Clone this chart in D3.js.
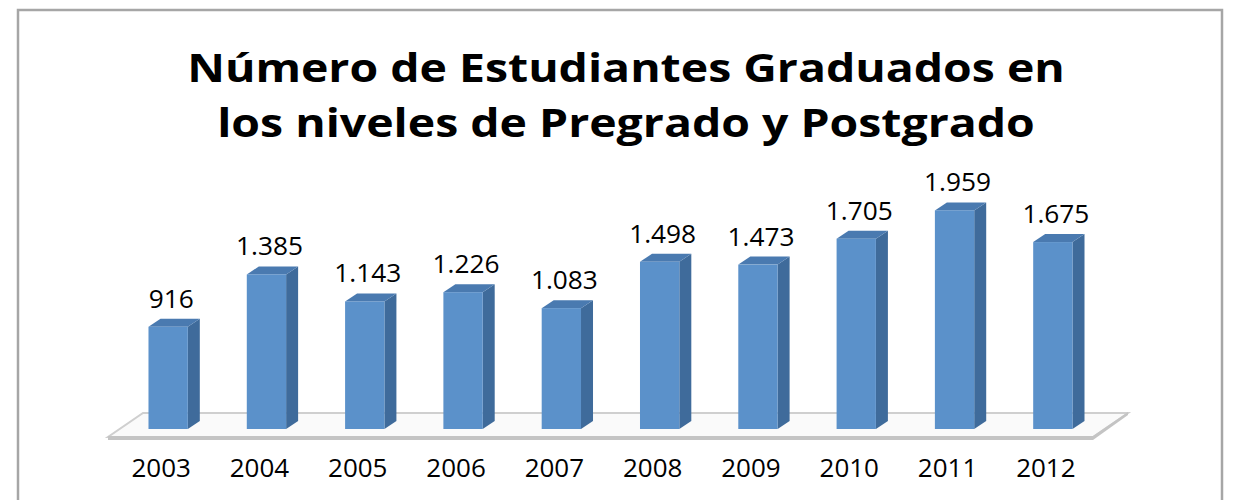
<!DOCTYPE html>
<meta charset="utf-8">
<style>
  body { margin: 0; background: #fff; }
  text { font-family: "Open Sans", sans-serif; }
</style>
<body>
<script src="https://d3js.org/d3.v7.min.js"></script>
<script>
    var years = ["2003", "2004", "2005", "2006", "2007", "2008", "2009", "2010", "2011", "2012"];
    var graduados = [916, 1385, 1143, 1226, 1083, 1498, 1473, 1705, 1959, 1675];
    var labels = ["916", "1.385", "1.143", "1.226", "1.083", "1.498", "1.473", "1.705", "1.959", "1.675"];
    var titleLines = ["Número de Estudiantes Graduados en", "los niveles de Pregrado y Postgrado"];

    var width = 1233,
        height = 500,
        depthX = 12,  // 3d depth of each bar
        depthY = -8;

    var data = years.map(function (y, i) {
        return {year: y, value: graduados[i], label: labels[i]};
    });

    var svg = d3.select('body')
        .append('svg')
        .attr('width', width)
        .attr('height', height);

    // outer chart border
    svg.append('rect')
        .attr('x', 18).attr('y', 10)
        .attr('width', 1204).attr('height', 520)
        .attr('fill', '#fff')
        .attr('stroke', '#a6a6a6')
        .attr('stroke-width', 2.5);

    var x = d3.scaleBand()
        .domain(years)
        .range([119, 1102])
        .paddingInner(0.6)
        .paddingOuter(0.3);

    var y = d3.scaleLinear()
        .domain([0, 2500])
        .range([429, 150]);

    // title (the original is a bit stretched horizontally)
    svg.append('text')
        .attr('transform', 'translate(626,0) scale(1.16,1)')
        .attr('text-anchor', 'middle')
        .attr('font-weight', 'bold')
        .attr('font-size', 40)
        .selectAll('tspan')
        .data(titleLines)
        .enter().append('tspan')
        .attr('x', 0)
        .attr('y', (d, i) => 82 + i * 55)
        .text(d => d);

    // floor
    var x0 = x.range()[0], x1 = x.range()[1];
    var floor = svg.append('g');
    floor.append('polygon')
        .attr('points', [[x0 - 11, 437], [x1 - 9, 437], [x1 + 26, 413], [x0 + 24, 413]].join(' '))
        .attr('fill', '#fafafa')
        .attr('stroke', '#cfcfcf')
        .attr('stroke-width', 2);
    floor.append('polygon')
        .attr('points', [[x0 - 11, 436], [x1 - 9, 436], [x1 - 9, 440], [x0 - 11, 440]].join(' '))
        .attr('fill', '#c4c4c4');
    floor.append('polygon')
        .attr('points', [[x1 - 9, 436], [x1 + 26, 412], [x1 + 26, 415], [x1 - 9, 440]].join(' '))
        .attr('fill', '#c4c4c4');

    var bars = svg.append('g')
        .selectAll('g')
        .data(data)
        .enter().append('g');

    // side face
    bars.append('polygon')
        .attr('points', function (d) {
            var r = x(d.year) + x.bandwidth(), t = y(d.value), b = y(0);
            return [[r, t], [r + depthX, t + depthY], [r + depthX, b + depthY], [r, b]].join(' ');
        })
        .attr('fill', '#3f6b9b');

    // top face
    bars.append('polygon')
        .attr('points', function (d) {
            var l = x(d.year), r = l + x.bandwidth(), t = y(d.value);
            return [[l, t], [r, t], [r + depthX, t + depthY], [l + depthX, t + depthY]].join(' ');
        })
        .attr('fill', '#4a7ab0');

    // front face
    bars.append('rect')
        .attr('x', d => x(d.year))
        .attr('y', d => y(d.value))
        .attr('width', x.bandwidth())
        .attr('height', d => y(0) - y(d.value))
        .attr('fill', '#5b91ca');

    // value labels
    bars.append('text')
        .attr('transform', d => 'translate(' + (x(d.year) + x.bandwidth() / 2 + 3) + ',' + (y(d.value) + depthY - 11) + ') scale(1.05,1)')
        .attr('text-anchor', 'middle')
        .attr('font-size', 25)
        .attr('fill', '#000')
        .text(d => d.label);

    // category labels
    svg.append('g')
        .selectAll('text')
        .data(years)
        .enter().append('text')
        .attr('transform', d => 'translate(' + (x(d) + x.bandwidth() / 2 - 7) + ',477) scale(1.04,1)')
        .attr('text-anchor', 'middle')
        .attr('font-size', 25)
        .attr('fill', '#000')
        .text(d => d);
</script>
</body>
</html>
